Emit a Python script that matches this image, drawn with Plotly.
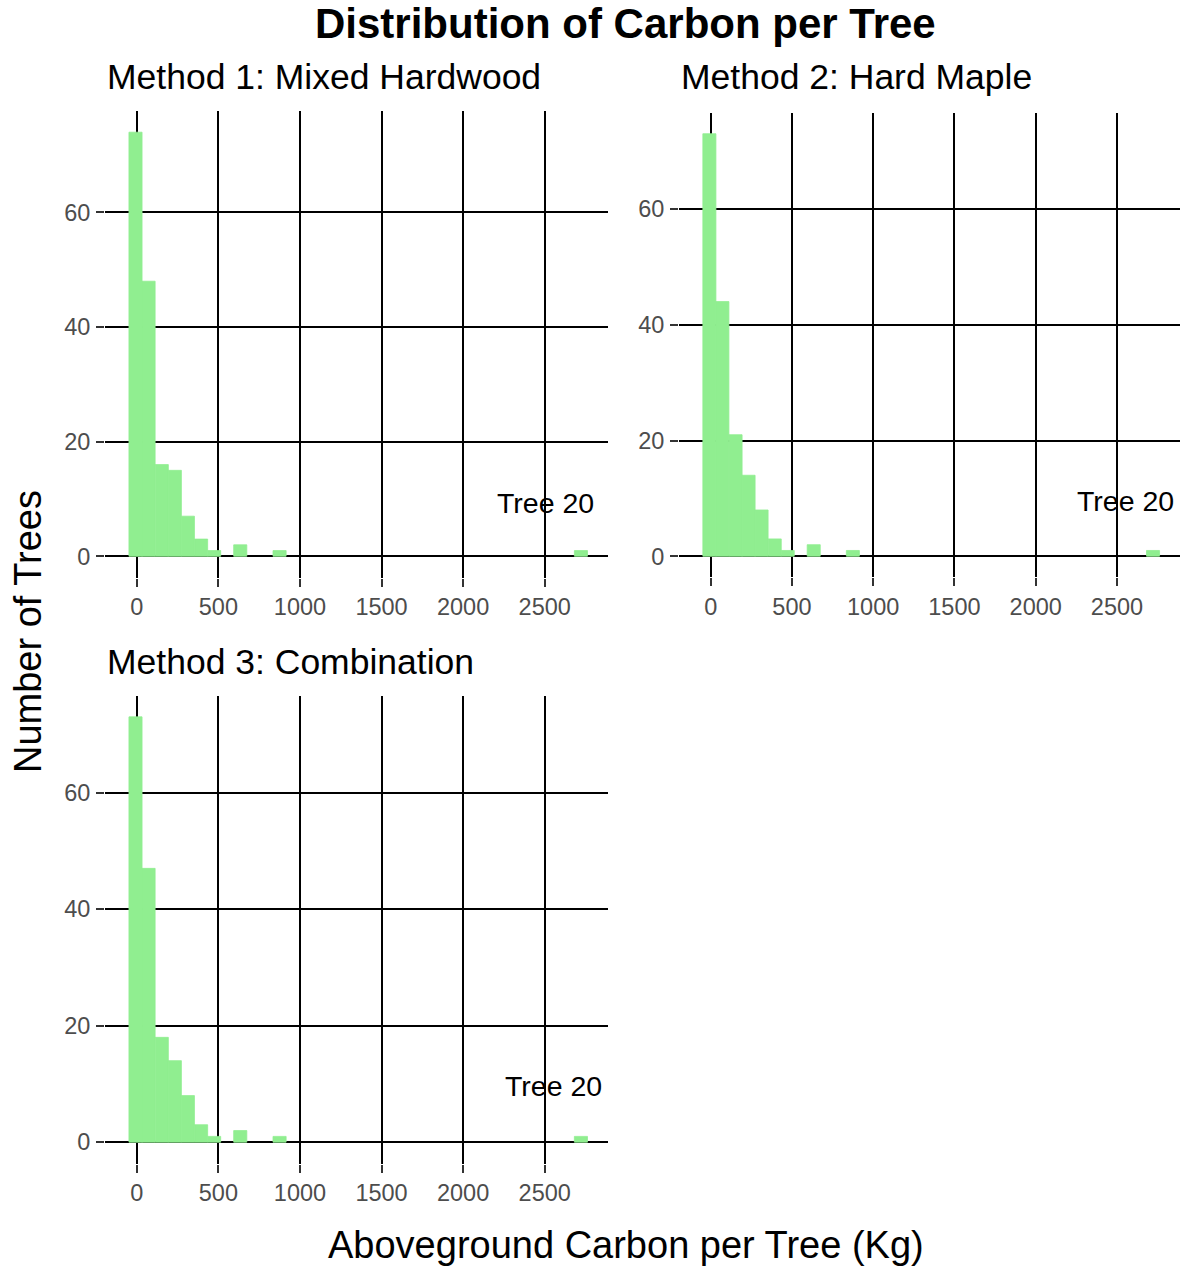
import plotly.graph_objects as go

# ---- data ----
bin_centers = [-8, 72, 153, 233, 313, 394, 474, 634, 875, 2722]
bin_width = 80.3
counts_m1 = [74, 48, 16, 15, 7, 3, 1, 2, 1, 1]
counts_m2 = [73, 44, 21, 14, 8, 3, 1, 2, 1, 1]
counts_m3 = [73, 47, 18, 14, 8, 3, 1, 2, 1, 1]
panel_titles = ["Method 1: Mixed Hardwood", "Method 2: Hard Maple", "Method 3: Combination"]
x_ticks = [0, 500, 1000, 1500, 2000, 2500]
y_ticks = [0, 20, 40, 60]
label_text = "Tree 20"
label_pos = [(2505, 9.3), (2553, 9.6), (2553, 9.6)]

W, H = 1180, 1266
FONT = "Liberation Sans, Arial, sans-serif"
BAR = "#90EE90"

def px_x(p):
    return p / W

def px_y(p):
    return 1 - p / H

panels = [
    dict(counts=counts_m1, xd=(105, 608), yd=(111, 577.5), yr=(-3.7, 77.7)),
    dict(counts=counts_m2, xd=(679, 1180), yd=(112.6, 577.4), yr=(-3.65, 76.65)),
    dict(counts=counts_m3, xd=(105, 608), yd=(695.6, 1163.5), yr=(-3.65, 76.65)),
]

fig = go.Figure()
layout = dict(
    width=W, height=H, margin=dict(l=0, r=0, t=0, b=0),
    paper_bgcolor="white", plot_bgcolor="white", showlegend=False,
    font=dict(family=FONT, color="black"),
)
annotations = []
for i, p in enumerate(panels):
    n = "" if i == 0 else str(i + 1)
    fig.add_trace(go.Bar(
        x=bin_centers, y=p["counts"], width=bin_width,
        marker=dict(color=BAR, line=dict(color=BAR, width=0.8)),
        xaxis="x" + n, yaxis="y" + n, hoverinfo="x+y",
    ))
    axcommon = dict(
        showgrid=True, gridcolor="black", gridwidth=1.8,
        zeroline=False, showline=False,
        ticks="outside", ticklen=8, tickwidth=1.8, tickcolor="#333333",
        tickfont=dict(size=23.5, color="#4D4D4D", family=FONT),
    )
    layout["xaxis" + n] = dict(
        axcommon, domain=[px_x(p["xd"][0]), px_x(p["xd"][1])],
        range=[-195, 2888], tickvals=x_ticks, anchor="y" + n,
        ticklabelstandoff=0,
    )
    layout["yaxis" + n] = dict(
        axcommon, domain=[px_y(p["yd"][1]), px_y(p["yd"][0])],
        range=list(p["yr"]), tickvals=y_ticks, anchor="x" + n,
        ticklabelstandoff=1,
    )
    # strip title
    annotations.append(dict(
        text=panel_titles[i], xref="paper", yref="paper",
        x=px_x(p["xd"][0] + 0), y=px_y(p["yd"][0] - 33.5 + (111 - p["yd"][0] if i == 1 else 0)),
        xanchor="left", yanchor="middle", showarrow=False,
        font=dict(size=35.5, color="black", family=FONT),
    ))
    # Tree 20 label
    annotations.append(dict(
        text=label_text, xref="x" + n, yref="y" + n,
        x=label_pos[i][0], y=label_pos[i][1],
        xanchor="center", yanchor="middle", showarrow=False,
        font=dict(size=28.5, color="black", family=FONT),
    ))

annotations.append(dict(
    text="<b>Distribution of Carbon per Tree</b>", xref="paper", yref="paper",
    x=px_x(625), y=px_y(24), xanchor="center", yanchor="middle", showarrow=False,
    font=dict(size=42, color="black", family=FONT),
))
annotations.append(dict(
    text="Aboveground Carbon per Tree (Kg)", xref="paper", yref="paper",
    x=px_x(626), y=px_y(1245), xanchor="center", yanchor="middle", showarrow=False,
    font=dict(size=38, color="black", family=FONT),
))
annotations.append(dict(
    text="Number of Trees", xref="paper", yref="paper", textangle=-90,
    x=px_x(28), y=px_y(632), xanchor="center", yanchor="middle", showarrow=False,
    font=dict(size=38, color="black", family=FONT),
))
layout["annotations"] = annotations
fig.update_layout(**layout)
fig.write_html("out.html")
